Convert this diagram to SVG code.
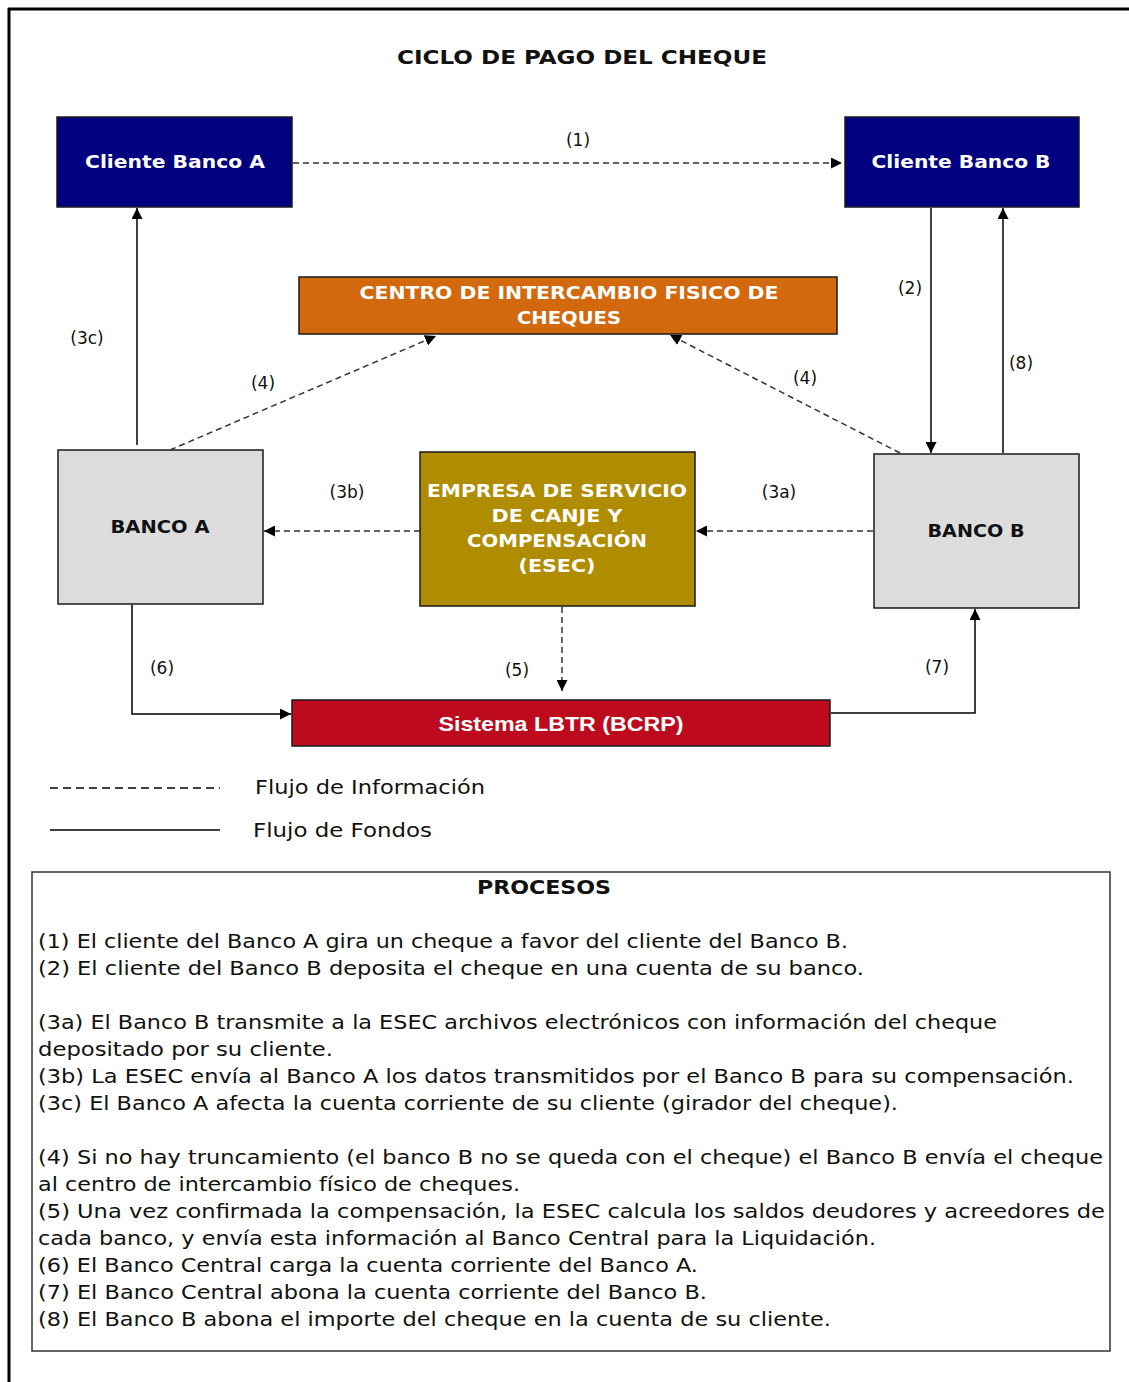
<svg xmlns="http://www.w3.org/2000/svg" width="1129" height="1382" viewBox="0 0 1129 1382">
<defs>
<style>
.node{stroke:#1a1a1a;stroke-width:1.5}
.wt{fill:#fff;font-family:"DejaVu Sans","Verdana",sans-serif;font-weight:bold;text-anchor:middle;dominant-baseline:central}
.bt{fill:#111;font-family:"DejaVu Sans","Verdana",sans-serif;font-weight:bold;text-anchor:middle;dominant-baseline:central}
.lbl{fill:#111;font-family:"DejaVu Sans","Verdana",sans-serif;font-size:17px;text-anchor:middle;dominant-baseline:central}
.solid{stroke:#000;stroke-width:1.5;fill:none}
.dash{stroke:#333;stroke-width:1.5;fill:none;stroke-dasharray:6 4}
.txt{fill:#111;font-family:"DejaVu Sans","Verdana",sans-serif;font-size:19px}
</style>
<marker id="ah" viewBox="0 0 10 10" refX="10" refY="5" markerWidth="11" markerHeight="11" markerUnits="userSpaceOnUse" orient="auto">
<path d="M0,0 L10,5 L0,10 z" fill="#000"/>
</marker>
</defs>
<rect x="0" y="0" width="1129" height="1382" fill="#fff"/>
<g id="frame">
<line x1="8" y1="9" x2="1129" y2="9" stroke="#000" stroke-width="3"/>
<line x1="9" y1="8" x2="9" y2="1382" stroke="#000" stroke-width="3"/>
</g>
<text x="582" y="57" class="bt" style="font-size:19px" textLength="370" lengthAdjust="spacingAndGlyphs">CICLO DE PAGO DEL CHEQUE</text>

<g id="cliente-a">
<rect class="node" x="57" y="117" width="235" height="90" fill="#000080"/>
<text class="wt" x="175" y="162" font-size="17" textLength="180" lengthAdjust="spacingAndGlyphs">Cliente Banco A</text>
</g>
<g id="cliente-b">
<rect class="node" x="845" y="117" width="234" height="90" fill="#000080"/>
<text class="wt" x="961" y="162" font-size="17" textLength="179" lengthAdjust="spacingAndGlyphs">Cliente Banco B</text>
</g>
<g id="centro">
<rect class="node" x="299" y="277" width="538" height="57" fill="#D2690F"/>
<text class="wt" x="569" y="293" font-size="17" textLength="419" lengthAdjust="spacingAndGlyphs">CENTRO DE INTERCAMBIO FISICO DE</text>
<text class="wt" x="569" y="318" font-size="17" textLength="104" lengthAdjust="spacingAndGlyphs">CHEQUES</text>
</g>
<g id="banco-a">
<rect class="node" x="58" y="450" width="205" height="154" fill="#DCDCDC"/>
<text class="bt" x="160" y="527" font-size="17" textLength="99" lengthAdjust="spacingAndGlyphs">BANCO A</text>
</g>
<g id="esec">
<rect class="node" x="420" y="452" width="275" height="154" fill="#B08C00"/>
<text class="wt" x="557" y="491" font-size="17" textLength="260" lengthAdjust="spacingAndGlyphs">EMPRESA DE SERVICIO</text>
<text class="wt" x="557" y="516" font-size="17" textLength="131" lengthAdjust="spacingAndGlyphs">DE CANJE Y</text>
<text class="wt" x="557" y="541" font-size="17" textLength="180" lengthAdjust="spacingAndGlyphs">COMPENSACIÓN</text>
<text class="wt" x="557" y="566" font-size="17" textLength="77" lengthAdjust="spacingAndGlyphs">(ESEC)</text>
</g>
<g id="banco-b">
<rect class="node" x="874" y="454" width="205" height="154" fill="#DCDCDC"/>
<text class="bt" x="976" y="531" font-size="17" textLength="97" lengthAdjust="spacingAndGlyphs">BANCO B</text>
</g>
<g id="lbtr">
<rect class="node" x="292" y="700" width="538" height="46" fill="#BE0A1E"/>
<text class="wt" x="561" y="723" font-size="21" style="font-family:'Liberation Sans Narrow','Liberation Sans',sans-serif" textLength="245" lengthAdjust="spacingAndGlyphs">Sistema LBTR (BCRP)</text>
</g>

<g id="connectors">
<line class="dash" x1="293" y1="163" x2="842" y2="163" marker-end="url(#ah)"/>
<line class="solid" x1="137" y1="445" x2="137" y2="208" marker-end="url(#ah)"/>
<line class="solid" x1="931" y1="208" x2="931" y2="453" marker-end="url(#ah)"/>
<line class="solid" x1="1003" y1="453" x2="1003" y2="208" marker-end="url(#ah)"/>
<line class="dash" x1="170" y1="450" x2="436" y2="336" marker-end="url(#ah)"/>
<line class="dash" x1="900" y1="453" x2="670" y2="335" marker-end="url(#ah)"/>
<line class="dash" x1="873" y1="531" x2="696" y2="531" marker-end="url(#ah)"/>
<line class="dash" x1="420" y1="531" x2="264" y2="531" marker-end="url(#ah)"/>
<line class="dash" x1="562" y1="607" x2="562" y2="691" marker-end="url(#ah)"/>
<polyline class="solid" points="132,605 132,714 291,714" marker-end="url(#ah)"/>
<polyline class="solid" points="831,713 975,713 975,609" marker-end="url(#ah)"/>
<text class="lbl" x="578" y="140">(1)</text>
<text class="lbl" x="910" y="288">(2)</text>
<text class="lbl" x="1021" y="363">(8)</text>
<text class="lbl" x="87" y="338">(3c)</text>
<text class="lbl" x="263" y="383">(4)</text>
<text class="lbl" x="805" y="378">(4)</text>
<text class="lbl" x="347" y="492">(3b)</text>
<text class="lbl" x="779" y="492">(3a)</text>
<text class="lbl" x="162" y="668">(6)</text>
<text class="lbl" x="517" y="670">(5)</text>
<text class="lbl" x="937" y="667">(7)</text>
</g>

<g id="legend">
<line class="dash" x1="50" y1="788" x2="220" y2="788" style="stroke:#000;stroke-dasharray:8 5"/>
<line class="solid" x1="50" y1="830" x2="220" y2="830"/>
<text class="txt" x="255" y="794" font-size="20" textLength="230" lengthAdjust="spacingAndGlyphs">Flujo de Información</text>
<text class="txt" x="253" y="837" font-size="20" textLength="179" lengthAdjust="spacingAndGlyphs">Flujo de Fondos</text>
</g>

<g id="procesos">
<rect x="32" y="872" width="1078" height="479" fill="#fff" stroke="#333" stroke-width="1.5"/>
<text class="bt" x="544" y="887" font-size="19" textLength="134" lengthAdjust="spacingAndGlyphs">PROCESOS</text>
<text class="txt" x="38" y="948" textLength="810" lengthAdjust="spacingAndGlyphs">(1) El cliente del Banco A gira un cheque a favor del cliente del Banco B.</text>
<text class="txt" x="38" y="975" textLength="826" lengthAdjust="spacingAndGlyphs">(2) El cliente del Banco B deposita el cheque en una cuenta de su banco.</text>
<text class="txt" x="38" y="1029" textLength="959" lengthAdjust="spacingAndGlyphs">(3a) El Banco B transmite a la ESEC archivos electrónicos con información del cheque</text>
<text class="txt" x="38" y="1056" textLength="295" lengthAdjust="spacingAndGlyphs">depositado por su cliente.</text>
<text class="txt" x="38" y="1083" textLength="1036" lengthAdjust="spacingAndGlyphs">(3b) La ESEC envía al Banco A los datos transmitidos por el Banco B para su compensación.</text>
<text class="txt" x="38" y="1110" textLength="860" lengthAdjust="spacingAndGlyphs">(3c) El Banco A afecta la cuenta corriente de su cliente (girador del cheque).</text>
<text class="txt" x="38" y="1164" textLength="1065" lengthAdjust="spacingAndGlyphs">(4) Si no hay truncamiento (el banco B no se queda con el cheque) el Banco B envía el cheque</text>
<text class="txt" x="38" y="1191" textLength="482" lengthAdjust="spacingAndGlyphs">al centro de intercambio físico de cheques.</text>
<text class="txt" x="38" y="1218" textLength="1067" lengthAdjust="spacingAndGlyphs">(5) Una vez confirmada la compensación, la ESEC calcula los saldos deudores y acreedores de</text>
<text class="txt" x="38" y="1245" textLength="838" lengthAdjust="spacingAndGlyphs">cada banco, y envía esta información al Banco Central para la Liquidación.</text>
<text class="txt" x="38" y="1272" textLength="660" lengthAdjust="spacingAndGlyphs">(6) El Banco Central carga la cuenta corriente del Banco A.</text>
<text class="txt" x="38" y="1299" textLength="669" lengthAdjust="spacingAndGlyphs">(7) El Banco Central abona la cuenta corriente del Banco B.</text>
<text class="txt" x="38" y="1326" textLength="793" lengthAdjust="spacingAndGlyphs">(8) El Banco B abona el importe del cheque en la cuenta de su cliente.</text>
</g>
</svg>
